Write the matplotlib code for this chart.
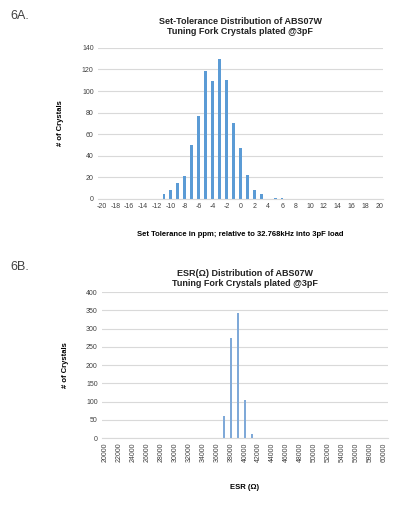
import matplotlib
matplotlib.use('Agg')
import matplotlib.pyplot as plt

plt.rcParams['font.family'] = ['Liberation Sans', 'DejaVu Sans']

# 6A: set tolerance (ppm) histogram
tol_ppm = [-20, -19, -18, -17, -16, -15, -14, -13, -12, -11, -10, -9, -8, -7, -6, -5, -4, -3, -2, -1,
           0, 1, 2, 3, 4, 5, 6, 7, 8, 9, 10, 11, 12, 13, 14, 15, 16, 17, 18, 19, 20]
tol_counts = [0, 0, 0, 0, 0, 0, 0, 0, 0, 5, 8, 15, 21, 50, 77, 119, 109, 130, 110, 70,
              47, 22, 8, 5, 0, 1, 1, 0, 0, 0, 0, 0, 0, 0, 0, 0, 0, 0, 0, 0, 0]

# 6B: ESR histogram
esr_ohm = [20000, 21000, 22000, 23000, 24000, 25000, 26000, 27000, 28000, 29000, 30000,
           31000, 32000, 33000, 34000, 35000, 36000, 37000, 38000, 39000, 40000,
           41000, 42000, 43000, 44000, 45000, 46000, 47000, 48000, 49000, 50000,
           51000, 52000, 53000, 54000, 55000, 56000, 57000, 58000, 59000, 60000]
esr_counts = [0, 0, 0, 0, 0, 0, 0, 0, 0, 0, 0,
              0, 0, 0, 0, 0, 0, 60, 275, 342, 105,
              11, 1, 0, 0, 0, 0, 0, 0, 0, 0,
              0, 0, 0, 0, 0, 0, 0, 0, 0, 0]

grid_col = '#D9D9D9'


def style_axis(ax, n, labels, ymax, ystep, rot):
    ax.set_xlim(-0.5, n - 0.5)
    ax.set_ylim(0, ymax)
    ax.set_yticks(range(0, ymax + 1, ystep))
    ax.yaxis.grid(True, color=grid_col, linewidth=0.8)
    ax.set_axisbelow(True)
    for s in ['top', 'right', 'left']:
        ax.spines[s].set_visible(False)
    ax.spines['bottom'].set_color(grid_col)
    ax.tick_params(axis='both', length=0, labelsize=5, colors='#404040', pad=3)
    ax.set_xticks(range(0, n, 2))
    ax.set_xticklabels(labels[::2], rotation=rot)


fig = plt.figure(figsize=(4.13, 5.07), dpi=100)

ax1 = fig.add_axes([0.237, 0.6075, 0.690, 0.298])
ax1.bar(range(len(tol_ppm)), tol_counts, width=0.4, color='#5B9BD5')
style_axis(ax1, len(tol_ppm), [str(v) for v in tol_ppm], 140, 20, 0)
ax1.set_ylabel('# of Crystals', fontsize=5.5, fontweight='bold', labelpad=13)
ax1.set_xlabel('Set Tolerance in ppm; relative to 32.768kHz into 3pF load',
               fontsize=5.5, fontweight='bold', labelpad=15)
ax1.set_title('Set-Tolerance Distribution of ABS07W\nTuning Fork Crystals plated @3pF',
              fontsize=6.5, fontweight='bold', color='#222222', pad=10, linespacing=1.2)

ax2 = fig.add_axes([0.247, 0.136, 0.692, 0.288])
ax2.bar(range(len(esr_ohm)), esr_counts, width=0.35, color='#7FA9D8')
style_axis(ax2, len(esr_ohm), [str(v) for v in esr_ohm], 400, 50, 90)
ax2.set_ylabel('# of Crystals', fontsize=5.5, fontweight='bold', labelpad=12)
ax2.set_xlabel('ESR (\u03a9)', fontsize=5.5, fontweight='bold', labelpad=16)
ax2.set_title('ESR(\u03a9) Distribution of ABS07W\nTuning Fork Crystals plated @3pF',
              fontsize=6.5, fontweight='bold', color='#222222', pad=4, linespacing=1.2)

fig.text(0.024, 0.962, '6A.', fontsize=9, color='#404040')
fig.text(0.024, 0.468, '6B.', fontsize=9, color='#404040')

fig.savefig('out.png', dpi=100)
